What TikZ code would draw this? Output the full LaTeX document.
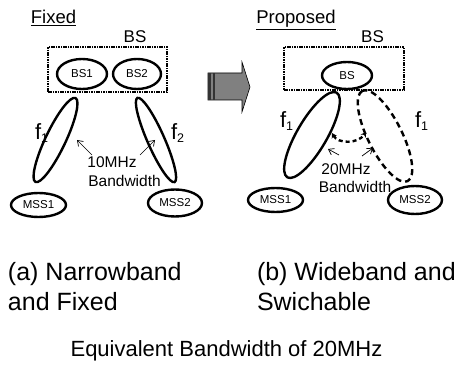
\documentclass[tikz,border=0pt]{standalone}
\usepackage{fontspec}
\setmainfont{Liberation Sans}
\usetikzlibrary{positioning, arrows.meta, shapes.geometric}

\newcommand{\fsz}[1]{\fontsize{#1}{#1}\selectfont}
\newcommand{\fsub}[1]{f{\fsz{12.5}\raisebox{-2.5pt}{#1}}}

\begin{document}
\begin{tikzpicture}[x=1pt, y=-1pt,
  every node/.style={inner sep=0pt, outer sep=0pt},
  headtxt/.style={font=\fsz{18.5}, anchor=base},
  bslbl/.style={font=\fsz{17}, anchor=base},
  bsbox/.style={draw, line width=1.7pt, dash pattern=on 1.6pt off 0.8pt},
  stn/.style={draw, ellipse, line width=2.4pt, font=\fsz{11.5}},
  beam/.style={draw, ellipse, line width=2.4pt},
  flbl/.style={font=\fsz{22}, anchor=base west},
  bwlbl/.style={font=\fsz{15.5}, anchor=base},
  notearr/.style={-{Straight Barb[length=5pt, width=7pt]}, line width=0.7pt},
  switcharr/.style={{Stealth[length=5pt, width=6pt]}-{Stealth[length=5pt, width=6pt]},
               line width=2.4pt, dash pattern=on 4pt off 3pt},
  captxt/.style={font=\fontsize{25}{30}\selectfont, align=left, anchor=base west}
]
\useasboundingbox (0,0) rectangle (461,366);

%% ---- (a) fixed ----
\node[headtxt] (fixed) at (53.5,24) {\underline{Fixed}};
\node[bslbl] (bsa) at (135,43) {BS};
\node[bsbox, minimum width=119pt, minimum height=45pt] (boxa) at (107.5,69.5) {};
\node[stn, minimum width=50pt, minimum height=30pt] (bs1) at (82,74) {BS1};
\node[stn, minimum width=48pt, minimum height=30pt] (bs2) at (137,74) {BS2};

\node[beam, rotate=64.5, minimum width=93pt, minimum height=20pt] (beam1) at (55.5,140) {};
\node[beam, rotate=113.8, minimum width=92pt, minimum height=17pt] (beam2) at (156,140) {};

\node[stn, minimum width=55pt, minimum height=24pt] (mss1a) at (38.5,205) {MSS1};
\node[stn, minimum width=54pt, minimum height=27pt] (mss2a) at (175,203) {MSS2};

\node[flbl] (f1a) at (35,140) {\fsub{1}};
\node[flbl] (f2a) at (171,140) {\fsub{2}};

\node[bwlbl] (tenmhz) at (112,168) {10MHz};
\node[bwlbl] (bwa) at (124.5,187) {Bandwidth};

% pointers to the beams
\coordinate (ta1) at (92,155);  \coordinate (ha1) at (77,140);
\coordinate (ta2) at (140,155); \coordinate (ha2) at (155,140);
\draw[notearr] (ta1) -- (ha1);
\draw[notearr] (ta2) -- (ha2);

%% ---- big arrow ----
\draw[fill=gray, line width=0.6pt] (208,73) -- (242,73) -- (242,62) -- (250,87)
  -- (242,112) -- (242,100) -- (208,100) -- cycle;
\fill[black!80] (208,73) rectangle (211,100);
\fill[black!80] (212.5,73) rectangle (215,100);

%% ---- (b) proposed ----
\node[headtxt] (prop) at (296,24) {\underline{Proposed}};
\node[bslbl] (bsb) at (372.5,43) {BS};
\node[bsbox, minimum width=120pt, minimum height=43pt] (boxb) at (344,68.5) {};
\node[stn, minimum width=50pt, minimum height=27pt] (bs) at (347,75.5) {BS};

\node[beam, rotate=59.8, minimum width=98pt, minimum height=30pt] (beamL) at (312,135) {};
\node[beam, rotate=116.6, minimum width=101pt, minimum height=34pt,
      dash pattern=on 6pt off 4pt] (beamR) at (385,136) {};

\node[stn, minimum width=55pt, minimum height=24pt] (mss1b) at (275.5,200) {MSS1};
\node[stn, minimum width=54pt, minimum height=28pt] (mss2b) at (415,200) {MSS2};

\node[flbl] (f1b) at (280,128) {\fsub{1}};
\node[flbl] (f1c) at (415,128) {\fsub{1}};

\node[bwlbl] (twentymhz) at (346,175) {20MHz};
\node[bwlbl] (bwb) at (355,193) {Bandwidth};

% switching between beams
\coordinate (sw1) at (332,133); \coordinate (sw2) at (366,132);
\draw[switcharr] (sw1) .. controls (338,144) and (358,144) .. (sw2);

\coordinate (tb1) at (339,155); \coordinate (hb1) at (328,149);
\coordinate (tb2) at (362,156); \coordinate (hb2) at (373,148);
\draw[notearr] (tb1) -- (hb1);
\draw[notearr] (tb2) -- (hb2);

%% ---- captions ----
\node[captxt] (capa) at (8,311) {(a) Narrowband\\and Fixed};
\node[captxt] (capb) at (257,311) {(b) Wideband and\\Swichable};
\node[font=\fsz{22}, anchor=base] (equiv) at (226.5,356) {Equivalent Bandwidth of 20MHz};

\end{tikzpicture}
\end{document}
